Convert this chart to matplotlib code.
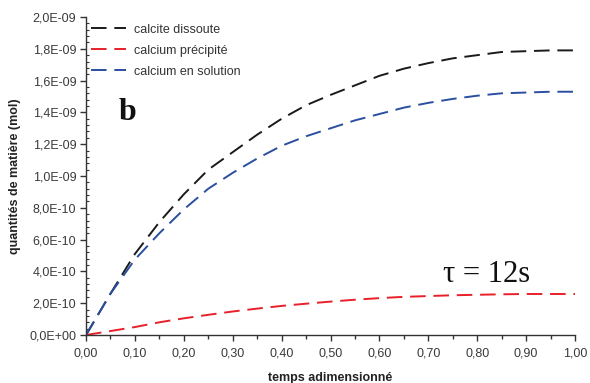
import matplotlib
matplotlib.use("Agg")
import matplotlib.pyplot as plt
from matplotlib.ticker import FuncFormatter, MultipleLocator

plt.rcParams['font.family'] = ['Liberation Sans', 'DejaVu Sans']

t = [0.00, 0.05, 0.10, 0.15, 0.20, 0.25, 0.30, 0.35, 0.40, 0.45, 0.50,
     0.55, 0.60, 0.65, 0.70, 0.75, 0.80, 0.85, 0.90, 0.95, 1.00]
calcite_dissoute = [0, 0.26, 0.51, 0.71, 0.885, 1.04, 1.15, 1.26, 1.36, 1.445, 1.51,
                    1.57, 1.63, 1.675, 1.71, 1.74, 1.76, 1.78, 1.785, 1.79, 1.79]
calcium_precipite = [0, 0.025, 0.05, 0.08, 0.105, 0.127, 0.148, 0.166, 0.183, 0.197, 0.21,
                     0.222, 0.232, 0.24, 0.245, 0.25, 0.253, 0.256, 0.258, 0.258, 0.258]
calcium_solution = [0, 0.26, 0.475, 0.64, 0.79, 0.92, 1.02, 1.11, 1.19, 1.25, 1.30,
                    1.35, 1.39, 1.43, 1.46, 1.485, 1.505, 1.52, 1.525, 1.53, 1.53]
scale = 1e-9

fig = plt.figure(figsize=(5.9, 3.83), dpi=100)
ax = fig.add_axes([0.1458, 0.1253, 0.8288, 0.8303])

dash = (0, (8, 4))
ax.plot(t, [v * scale for v in calcite_dissoute], color='#1a1a1a', lw=1.4, linestyle=dash, label='calcite dissoute')
ax.plot(t, [v * scale for v in calcium_precipite], color='#e8202a', lw=1.4, linestyle=dash, label='calcium précipité')
ax.plot(t, [v * scale for v in calcium_solution], color='#2a4ea0', lw=1.4, linestyle=dash, label='calcium en solution')

ax.set_xlim(0, 1.0)
ax.set_ylim(0, 2.0e-9)
ax.xaxis.set_major_locator(MultipleLocator(0.1))
ax.xaxis.set_minor_locator(MultipleLocator(0.05))
ax.yaxis.set_major_locator(MultipleLocator(2e-10))
ax.yaxis.set_minor_locator(MultipleLocator(4e-11))
ax.xaxis.set_major_formatter(FuncFormatter(lambda v, p: f"{v:.2f}".replace('.', ',')))
ax.yaxis.set_major_formatter(FuncFormatter(lambda v, p: f"{v:.1E}".replace('.', ',')))

for s in ['top', 'right']:
    ax.spines[s].set_visible(False)
for s in ['left', 'bottom']:
    ax.spines[s].set_color('#333333')
    ax.spines[s].set_linewidth(1.0)

ax.tick_params(axis='both', which='major', direction='out', length=4, width=1,
               color='#333333', labelsize=9, labelcolor='#3a3a3a')
ax.tick_params(axis='x', which='minor', direction='out', length=3, width=1, color='#333333')
ax.tick_params(axis='y', which='minor', direction='in', length=2.5, width=0.8, color='#333333')
ax.tick_params(axis='x', which='major', pad=5)
ax.tick_params(axis='y', which='major', pad=3)

ax.set_xlabel('temps adimensionné', fontsize=9, fontweight='bold', color='#222222', labelpad=9)
ax.set_ylabel('quantités de matière (mol)', fontsize=9, fontweight='bold', color='#222222', labelpad=6)

leg = ax.legend(loc='upper left', bbox_to_anchor=(0.0, 0.995), frameon=False, fontsize=9,
                handlelength=2.8, handletextpad=0.65, labelspacing=0.72, borderaxespad=0.0)
for txt in leg.get_texts():
    txt.set_color('#333333')

ax.text(0.085, 0.70, 'b', transform=ax.transAxes, fontsize=23, fontweight='bold',
        family=['Liberation Serif', 'DejaVu Serif'], ha='center', va='center', color='#111111')
ax.text(0.82, 0.19, 'τ = 12s', transform=ax.transAxes, fontsize=22,
        family=['Liberation Serif', 'DejaVu Serif'], ha='center', va='center', color='#111111')

fig.savefig('out.png', dpi=100)
